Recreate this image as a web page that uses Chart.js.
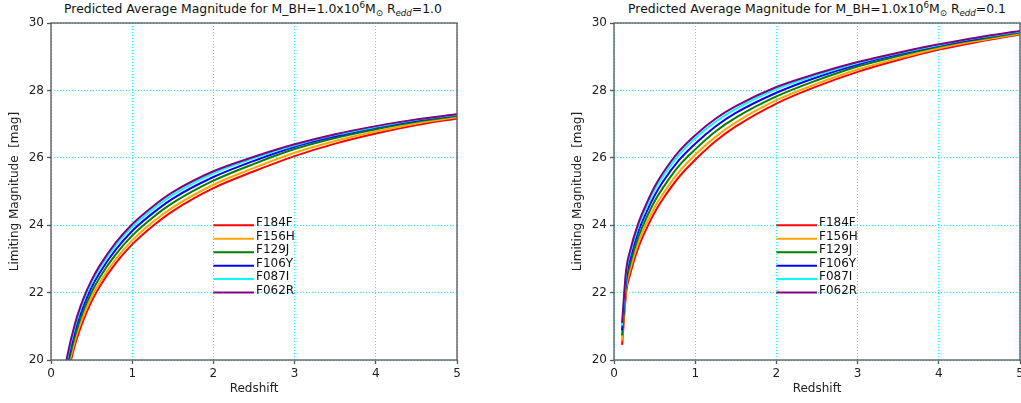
<!DOCTYPE html>
<html>
<head>
<meta charset="utf-8">
<script src="https://cdn.jsdelivr.net/npm/chart.js@4.4.1/dist/chart.umd.min.js"></script>
<style>
  html, body { margin: 0; padding: 0; background: #fff; }
  #wrap { position: relative; width: 1021px; height: 403px; font-family: 'DejaVu Sans', sans-serif; }
  .panel { position: absolute; top: 0; height: 403px; }
  .ttl { position: absolute; top: 1px; font-size: 12.4px; line-height: 16px; color: #111; white-space: nowrap; transform: translateX(-50%); }
  .ttl sup { font-size: 70%; vertical-align: 5px; line-height: 0; }
  .ttl sub { font-size: 70%; vertical-align: -3px; line-height: 0; }
</style>
</head>
<body>
<div id="wrap">
  <div class="ttl" style="left:253px">Predicted Average Magnitude for M_BH=1.0x10<sup>6</sup>M<sub>&#8857;</sub> R<sub><i>edd</i></sub>=1.0</div>
  <div class="ttl" style="left:817px">Predicted Average Magnitude for M_BH=1.0x10<sup>6</sup>M<sub>&#8857;</sub> R<sub><i>edd</i></sub>=0.1</div>
  <div class="panel" style="left:0;width:470px"><canvas id="high"></canvas></div>
  <div class="panel" style="left:563px;width:458px"><canvas id="low"></canvas></div>
</div>
<script>
// redshift grid shared by all curves
var redshift = [0.1, 0.15, 0.2, 0.3, 0.4, 0.5, 0.6, 0.8, 1.0, 1.25, 1.5, 2.0, 2.5, 3.0, 3.5, 4.0, 4.5, 5.0];

var filterNames = ['F184F', 'F156H', 'F129J', 'F106Y', 'F087I', 'F062R'];
var filterColors = ['#ff0000', '#ffa500', '#008000', '#0000ff', '#00ffff', '#800080'];

// R_edd = 1.0
var f184fHigh = [17.8, 18.79, 19.49, 20.49, 21.19, 21.74, 22.18, 22.88, 23.43, 23.97, 24.42, 25.1, 25.6, 26.05, 26.42, 26.72, 26.97, 27.17];
var f156hHigh = [17.92, 18.91, 19.61, 20.62, 21.32, 21.87, 22.3, 23.0, 23.55, 24.09, 24.53, 25.2, 25.7, 26.15, 26.5, 26.78, 27.02, 27.2];
var f129jHigh = [18.06, 19.05, 19.76, 20.76, 21.47, 22.01, 22.45, 23.14, 23.69, 24.22, 24.66, 25.32, 25.82, 26.26, 26.59, 26.85, 27.07, 27.24];
var f106yHigh = [18.2, 19.19, 19.9, 20.91, 21.61, 22.16, 22.59, 23.28, 23.83, 24.35, 24.79, 25.43, 25.91, 26.33, 26.64, 26.9, 27.11, 27.27];
var f087iHigh = [18.32, 19.31, 20.03, 21.04, 21.75, 22.29, 22.72, 23.41, 23.95, 24.47, 24.9, 25.54, 25.99, 26.37, 26.68, 26.92, 27.13, 27.28];
var f062rHigh = [18.4, 19.39, 20.11, 21.12, 21.83, 22.37, 22.8, 23.49, 24.03, 24.55, 24.98, 25.6, 26.03, 26.4, 26.7, 26.94, 27.14, 27.29];

// R_edd = 0.1
var f184fLow = [20.45, 22.0, 22.56, 23.34, 23.9, 24.38, 24.77, 25.43, 25.94, 26.49, 26.93, 27.61, 28.12, 28.55, 28.9, 29.21, 29.45, 29.66];
var f156hLow = [20.58, 22.14, 22.7, 23.48, 24.05, 24.53, 24.92, 25.58, 26.09, 26.62, 27.05, 27.71, 28.2, 28.62, 28.95, 29.25, 29.48, 29.68];
var f129jLow = [20.73, 22.29, 22.86, 23.65, 24.22, 24.71, 25.1, 25.76, 26.25, 26.78, 27.19, 27.82, 28.3, 28.71, 29.02, 29.3, 29.52, 29.72];
var f106yLow = [20.88, 22.45, 23.02, 23.82, 24.39, 24.88, 25.28, 25.93, 26.42, 26.93, 27.33, 27.93, 28.39, 28.77, 29.07, 29.33, 29.55, 29.74];
var f087iLow = [21.02, 22.59, 23.17, 23.97, 24.54, 25.04, 25.44, 26.09, 26.58, 27.07, 27.45, 28.04, 28.45, 28.81, 29.1, 29.35, 29.57, 29.75];
var f062rLow = [21.1, 22.68, 23.26, 24.06, 24.64, 25.14, 25.54, 26.19, 26.67, 27.16, 27.53, 28.1, 28.5, 28.84, 29.12, 29.37, 29.58, 29.76];

// the in-plot key: short lines in data units, one row per filter
var keyX = [2.0, 2.5];
var keyY = [24.0, 23.6, 23.2, 22.8, 22.4, 22.0];

var xTicks = [0, 1, 2, 3, 4, 5];
var yTicks = [20, 22, 24, 26, 28, 30];

Chart.defaults.font.family = "'DejaVu Sans', sans-serif";
Chart.defaults.color = '#222';

var framePlugin = {
  id: 'frame',
  afterDatasetsDraw: function (c) {
    var a = c.chartArea, ctx = c.ctx;
    ctx.save();
    ctx.strokeStyle = '#555';
    ctx.lineWidth = 1.3;
    ctx.strokeRect(a.left, a.top, a.right - a.left, a.bottom - a.top);
    ctx.restore();
  }
};

var keyTextPlugin = {
  id: 'keyText',
  afterDatasetsDraw: function (c) {
    var ctx = c.ctx, xs = c.scales.x, ys = c.scales.y;
    ctx.save();
    ctx.font = "12px 'DejaVu Sans', sans-serif";
    ctx.fillStyle = '#111';
    ctx.textAlign = 'left';
    ctx.textBaseline = 'alphabetic';
    filterNames.forEach(function (n, i) {
      ctx.fillText(n, xs.getPixelForValue(keyX[1]) + 2, ys.getPixelForValue(keyY[i]) + 1);
    });
    ctx.restore();
  }
};

function makeChart(id, series, padRight) {
  var ds = [];
  series.forEach(function (vals, i) {
    ds.push({
      label: filterNames[i],
      data: redshift.map(function (z, k) { return { x: z, y: vals[k] }; }),
      borderColor: filterColors[i],
      borderWidth: 2,
      pointRadius: 0,
      cubicInterpolationMode: 'monotone',
      clip: 0,
      order: series.length - i
    });
  });
  filterNames.forEach(function (n, i) {
    ds.push({
      label: n + ' key',
      data: keyX.map(function (x) { return { x: x, y: keyY[i] }; }),
      borderColor: filterColors[i],
      borderWidth: 2,
      pointRadius: 0,
      clip: 0
    });
  });

  return new Chart(document.getElementById(id), {
    type: 'line',
    data: { datasets: ds },
    options: {
      responsive: true,
      maintainAspectRatio: false,
      animation: false,
      layout: { padding: { top: 23, right: padRight, left: 0, bottom: 0 } },
      plugins: { legend: { display: false }, tooltip: { enabled: false } },
      scales: {
        x: {
          type: 'linear', min: 0, max: 5,
          afterBuildTicks: function (s) { s.ticks = xTicks.map(function (v) { return { value: v }; }); },
          afterFit: function (s) { s.height = 43; s.paddingLeft = 0; s.paddingRight = 0; },
          grid: { color: '#00ffff', lineWidth: 1, tickLength: 4, tickColor: '#555', tickWidth: 1.3, tickBorderDash: [] },
          border: { display: false, dash: [1, 2] },
          ticks: { font: { size: 12 }, padding: 3, maxRotation: 0 },
          title: { display: true, text: 'Redshift', font: { size: 12 }, padding: { top: 0, bottom: 7 } }
        },
        y: {
          type: 'linear', min: 20, max: 30,
          afterBuildTicks: function (s) { s.ticks = yTicks.map(function (v) { return { value: v }; }); },
          afterFit: function (s) { s.width = 51; s.paddingTop = 0; s.paddingBottom = 0; },
          grid: { color: '#00ffff', lineWidth: 1, tickLength: 4, tickColor: '#555', tickWidth: 1.3, tickBorderDash: [] },
          border: { display: false, dash: [1, 2] },
          ticks: { font: { size: 12 }, padding: 3 },
          title: { display: true, text: 'Limiting Magnitude  [mag]', font: { size: 12 }, padding: { top: 8, bottom: 0 } }
        }
      }
    },
    plugins: [framePlugin, keyTextPlugin]
  });
}

makeChart('high', [f184fHigh, f156hHigh, f129jHigh, f106yHigh, f087iHigh, f062rHigh], 13);
makeChart('low', [f184fLow, f156hLow, f129jLow, f106yLow, f087iLow, f062rLow], 1);
</script>
</body>
</html>
